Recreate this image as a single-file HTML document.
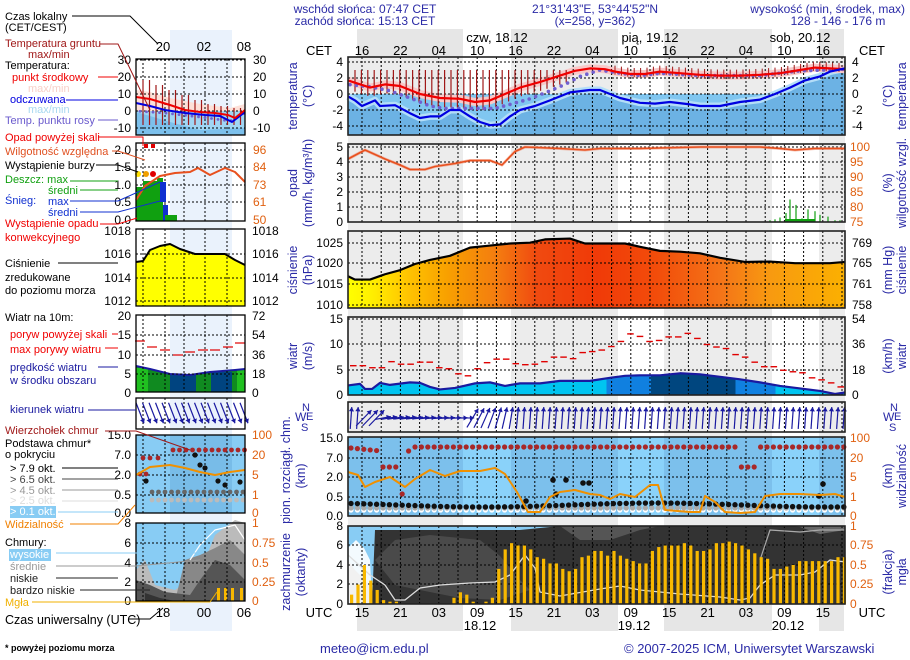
<!DOCTYPE html>
<html><head><meta charset="utf-8">
<style>
html,body{margin:0;padding:0;background:#fff;}
svg{display:block;font-family:"Liberation Sans",sans-serif;}
.b{fill:#2a2aa6;font-size:12px}
.n{font-size:12px;fill:#000}
.lg{font-size:11px}
</style></head><body>
<svg id="c" width="910" height="660" viewBox="0 0 910 660" xmlns="http://www.w3.org/2000/svg">
<g id="plots"></g>
<text class="b" x="365" y="13" text-anchor="middle">wschód słońca: 07:47 CET</text>
<text class="b" x="365" y="25" text-anchor="middle">zachód słońca: 15:13 CET</text>
<text class="b" x="595" y="13" text-anchor="middle">21°31'43"E, 53°44'52"N</text>
<text class="b" x="595" y="25" text-anchor="middle">(x=258,  y=362)</text>
<text class="b" x="905" y="13" text-anchor="end">wysokość (min, środek, max)</text>
<text class="b" x="838" y="25" text-anchor="middle">128 - 146 - 176 m</text>
<text class="n" x="497" y="42" text-anchor="middle" style="font-size:13px">czw, 18.12</text>
<text class="n" x="650" y="42" text-anchor="middle" style="font-size:13px">pią, 19.12</text>
<text class="n" x="800" y="42" text-anchor="middle" style="font-size:13px">sob, 20.12</text>
<text class="n" x="319" y="55" text-anchor="middle" style="font-size:13px">CET</text>
<text class="n" x="872" y="55" text-anchor="middle" style="font-size:13px">CET</text>
<text class="n" x="319" y="617" text-anchor="middle" style="font-size:13px">UTC</text>
<text class="n" x="872" y="617" text-anchor="middle" style="font-size:13px">UTC</text>
<text class="n" x="480" y="630" text-anchor="middle" style="font-size:13px">18.12</text>
<text class="n" x="634" y="630" text-anchor="middle" style="font-size:13px">19.12</text>
<text class="n" x="788" y="630" text-anchor="middle" style="font-size:13px">20.12</text>
<text class="b" x="320" y="653" style="font-size:13px">meteo@icm.edu.pl</text>
<text class="b" x="624" y="653" style="font-size:13px">© 2007-2025 ICM, Uniwersytet Warszawski</text>
<text x="5" y="651" style="font-size:9px;font-weight:bold" fill="#000">* powyżej poziomu morza</text>
<g class="lg">
<text x="5" y="20" fill="#000">Czas lokalny</text>
<text x="5" y="31" fill="#000">(CET/CEST)</text>
<text x="5" y="47" fill="#a01818">Temperatura gruntu</text>
<text x="28" y="58" fill="#a01818">max/min</text>
<text x="5" y="69" fill="#000">Temperatura:</text>
<text x="12" y="81" fill="#f00000">punkt środkowy</text>
<text x="28" y="92" fill="#f8d0c8">max/min</text>
<text x="10" y="103" fill="#0000e0">odczuwana</text>
<text x="28" y="113" fill="#a8d8f0">max/min</text>
<text x="5" y="124" fill="#6a5acd">Temp. punktu rosy</text>
<text x="5" y="141" fill="#f00000">Opad powyżej skali</text>
<text x="5" y="155" fill="#e05020">Wilgotność względna</text>
<text x="5" y="169" fill="#000">Wystąpienie burzy</text>
<text x="5" y="183" fill="#10a010">Deszcz: max</text>
<text x="48" y="194" fill="#10a010">średni</text>
<text x="5" y="204" fill="#1030d0">Śnieg:</text>
<text x="48" y="205" fill="#1030d0">max</text>
<text x="48" y="216" fill="#1030d0">średni</text>
<text x="5" y="227" fill="#f00000">Wystąpienie opadu</text>
<text x="5" y="241" fill="#f00000">konwekcyjnego</text>
<text x="5" y="267" fill="#000">Ciśnienie</text>
<text x="5" y="281" fill="#000">zredukowane</text>
<text x="5" y="294" fill="#000">do poziomu morza</text>
<text x="5" y="321" fill="#000">Wiatr na 10m:</text>
<text x="10" y="338" fill="#f00000">poryw powyżej skali</text>
<text x="10" y="353" fill="#f00000">max porywy wiatru</text>
<text x="10" y="371" fill="#1a1aa0">prędkość wiatru</text>
<text x="10" y="384" fill="#1a1aa0">w środku obszaru</text>
<text x="10" y="413" fill="#1a1aa0">kierunek wiatru</text>
<text x="5" y="434" fill="#a01818">Wierzchołek chmur</text>
<text x="5" y="447" fill="#000">Podstawa chmur*</text>
<text x="5" y="458" fill="#000">o pokryciu</text>
<text x="10" y="472" fill="#000">&gt; 7.9 okt.</text>
<text x="10" y="483" fill="#444">&gt; 6.5 okt.</text>
<text x="10" y="494" fill="#999">&gt; 4.5 okt.</text>
<text x="10" y="504" fill="#ddd">&gt; 2.5 okt.</text>
<rect x="10" y="506" width="46" height="12" fill="#88ccf4"/>
<text x="10" y="515" fill="#fff">&gt; 0.1 okt.</text>
<text x="5" y="528" fill="#f08000">Widzialność</text>
<text x="5" y="546" fill="#000">Chmury:</text>
<rect x="9" y="549" width="42" height="12" fill="#88ccf4"/>
<text x="10" y="558" fill="#fff">wysokie</text>
<text x="10" y="570" fill="#999">średnie</text>
<text x="10" y="582" fill="#222">niskie</text>
<text x="10" y="594" fill="#222">bardzo niskie</text>
<text x="5" y="606" fill="#f0b000">Mgła</text>
<text x="5" y="624" fill="#000" style="font-size:12.5px">Czas uniwersalny (UTC)</text>
</g>
</svg>
<script>
(function(){
let s='';
const R=(x,y,w,h,f,e='')=>{s+=`<rect x="${x}" y="${y}" width="${w}" height="${h}" fill="${f}" ${e}/>`;};
const L=(x1,y1,x2,y2,c,w=1,e='')=>{s+=`<line x1="${x1}" y1="${y1}" x2="${x2}" y2="${y2}" stroke="${c}" stroke-width="${w}" ${e}/>`;};
const T=(x,y,t,c='#000',a='start',fs=12)=>{s+=`<text x="${x}" y="${y}" fill="${c}" text-anchor="${a}" style="font-size:${fs}px">${t}</text>`;};
const RT=(x,y,t,c='#2a2aa6')=>{s+=`<text transform="translate(${x},${y}) rotate(-90)" fill="${c}" text-anchor="middle" style="font-size:12.5px">${t}</text>`;};
const P=(pts,c,w,e='')=>{s+=`<polyline points="${pts.map(p=>p.join(',')).join(' ')}" fill="none" stroke="${c}" stroke-width="${w}" stroke-linejoin="round" ${e}/>`;};
const G=(pts,f,e='')=>{s+=`<polygon points="${pts.map(p=>p.join(',')).join(' ')}" fill="${f}" ${e}/>`;};
const C=(x,y,r,f)=>{s+=`<circle cx="${x}" cy="${y}" r="${r}" fill="${f}"/>`;};
const ip=(pts,x)=>{for(let i=0;i<pts.length-1;i++){if(x>=pts[i][0]&&x<=pts[i+1][0]){const t=(x-pts[i][0])/(pts[i+1][0]-pts[i][0]);return pts[i][1]+t*(pts[i+1][1]-pts[i][1]);}}return x<pts[0][0]?pts[0][1]:pts[pts.length-1][1];};
const X0=348,X1=845,W=X1-X0;
const days=[[463,511],[618,664],[772,819]];
const DASH='stroke-dasharray="2,2"';
R(170,30,62,601,'#eaf2fc');
[[357,463],[511,618],[664,772],[819,844]].forEach(b=>{R(b[0],29,b[1]-b[0],28,'#e6e6e6');});
R(348,57,497,547,'#ececec');
days.forEach(d=>R(d[0],57,d[1]-d[0],547,'#fff'));
const hrs=['16','22','04','10','16','22','04','10','16','22','04','10','16'];
const utc=['15','21','03','09','15','21','03','09','15','21','03','09','15'];
hrs.forEach((h,i)=>{T(362+i*38.4,55,h,'#000','middle',13);});
const vgrid=(y0,y1)=>{for(let x=362;x<X1;x+=19.2)L(x,y0,x,y1,'#000',1,DASH);};
const hgrid=(ys)=>ys.forEach(y=>L(X0,y,X1,y,'#000',1,DASH));
const box=(y0,y1)=>R(X0,y0,W,y1-y0,'none','stroke="#222" stroke-width="1.6"');
// TEMP
const ty=v=>94-8*v;
const red=[[348,1.7],[370,0.8],[385,1.2],[400,1.0],[420,0],[440,-0.5],[460,-0.6],[475,-1.0],[490,-0.8],[505,0],[520,0.8],[540,1.5],[560,2.3],[575,2.9],[590,3.2],[605,3.1],[615,2.8],[630,2.5],[645,2.5],[660,2.8],[680,2.6],[700,2.4],[720,2.3],[740,2.3],[760,2.4],[780,2.6],[800,3.0],[815,3.3],[830,3.2],[845,3.1]].map(p=>[p[0],ty(p[1])]);
const blue=[[348,-0.3],[355,-0.8],[362,-1.5],[375,-0.8],[380,-1.5],[395,-1.4],[410,-2.4],[420,-3.0],[430,-2.8],[440,-2.8],[450,-2.0],[460,-2.0],[470,-2.8],[480,-3.5],[490,-3.9],[500,-3.8],[510,-2.8],[520,-2.0],[535,-1.5],[550,-0.8],[570,0.2],[590,0.5],[600,0.5],[610,0],[620,-0.5],[640,-1.1],[655,-1.2],[670,-1.0],[690,-1.3],[700,-1.5],[720,-1.5],[740,-1.0],[760,-0.7],[775,0],[790,0.8],[805,1.7],[820,2.2],[830,2.8],[845,3.2]].map(p=>[p[0],ty(p[1])]);
R(X0,94,W,41,'#80c6f0');
G([[348,135],...blue,[845,135]],'#6cb2e4');
P(blue,'#b4def8',7);
P(red,'#f8c8c8',8);
hgrid([62,78,94,110,126]);vgrid(57,135);
for(let x=355;x<570;x+=6.4){L(x,70,x,ip(red,x)+9,'#a01818',1.2);}
for(let x=615;x<845;x+=6.4){const y=ip(red,x);L(x,y-6,x,y+3,'#a01818',1);}
const dew=[[348,1.2],[370,0.9],[390,0.4],[410,-0.5],[430,-1.5],[445,-1.8],[495,-1.8],[510,-1.3],[530,-0.6],[550,0.4],[565,1.2],[580,2.2],[600,3.0],[620,2.6],[640,2.3],[660,2.6],[700,2.3],[760,2.3],[800,2.9],[845,3.1]].map(p=>[p[0],ty(p[1])]);
for(let x=350;x<845;x+=6.4)C(x,ip(dew,x),1.8,'#7060d0');
P(red,'#f00000',2.2);P(blue,'#0000e0',2.2);
box(57,135);
[[4,62],[2,78],[0,94],[-2,110],[-4,126]].forEach(t=>{T(343,t[1]+4,t[0],'#000','end');T(852,t[1]+4,t[0]);});
// PRECIP
hgrid([147,162,177,192,207]);vgrid(144,222);
const rh=[[348,96],[365,99],[385,96],[400,94],[410,92.5],[425,92.5],[435,93.5],[455,94.5],[470,95.5],[490,95.5],[502,94],[515,98.5],[525,100],[560,99.5],[585,99],[600,99.5],[640,99.5],[700,100],[760,100],[780,99.5],[795,99],[815,99.5],[845,99.5]].map(p=>[p[0],222-(p[1]-75)*3]);
P(rh,'#f08060',3,'opacity="0.5"');P(rh,'#e8501e',1.6);
[[770,2],[775,3],[780,5],[786,10],[790,25],[796,19],[802,4],[808,14],[815,12],[820,8],[828,6],[835,2],[840,2]].forEach(b=>L(b[0],222,b[0],222-b[1]*0.9,'#10a010',1.2));
R(785,219,30,3,'#10a010');
box(144,222);
[[5,147],[4,162],[3,177],[2,192],[1,207],[0,222]].forEach(t=>T(343,t[1]+4,t[0],'#000','end'));
[[100,147],[95,162],[90,177],[85,192],[80,207],[75,222]].forEach(t=>T(850,t[1]+4,t[0],'#e06010'));
// PRESSURE
const py=p=>305-(p-1010)*4.1;
const pr=[[348,1017],[355,1016.2],[370,1016.2],[385,1017.5],[400,1018.5],[415,1020],[430,1021],[450,1022],[470,1024],[490,1024.5],[510,1025],[530,1025.2],[545,1026],[570,1026.2],[585,1025],[600,1025],[625,1025],[640,1024.2],[660,1023.2],[680,1023],[700,1022.6],[720,1021.5],[745,1020.5],[770,1020.6],[795,1020.2],[815,1020.2],[830,1020.2],[845,1020.5]].map(p=>[p[0],py(p[1])]);
s+=`<defs><linearGradient id="pg" x1="348" x2="845" y1="0" y2="0" gradientUnits="userSpaceOnUse">
<stop offset="0" stop-color="#ffff00"/><stop offset="0.05" stop-color="#ffee00"/><stop offset="0.12" stop-color="#ffc400"/><stop offset="0.2" stop-color="#f8a000"/><stop offset="0.3" stop-color="#f47c10"/><stop offset="0.38" stop-color="#f04a10"/><stop offset="0.5" stop-color="#f03a08"/><stop offset="0.62" stop-color="#f24c0a"/><stop offset="0.75" stop-color="#f47418"/><stop offset="0.85" stop-color="#f89a10"/><stop offset="1" stop-color="#fbb000"/></linearGradient></defs>`;
G([[348,308],...pr,[845,308]],'url(#pg)');
hgrid([243,263,284,305]);vgrid(231,308);
P(pr,'#000',2.2);
box(231,308);
[[1025,243],[1020,263],[1015,284],[1010,305]].forEach(t=>T(343,t[1]+4,t[0],'#000','end'));
[[769,243],[765,263],[761,284],[758,305]].forEach(t=>T(852,t[1]+4,t[0]));
// WIND
const wy=v=>395-5.05*v;
const ws=[[348,1.9],[360,2.2],[365,1.2],[372,1.2],[380,2.4],[390,2.0],[410,2.5],[420,2.4],[430,1.6],[440,1.1],[455,1.4],[475,2.3],[490,2.5],[505,1.8],[520,2.3],[540,2.3],[560,2.8],[590,2.8],[610,3.4],[625,3.8],[640,3.9],[660,3.9],[680,4.3],[700,4.1],[720,3.6],[740,3.1],[760,2.5],[780,1.8],[800,1.3],[820,0.8],[835,0.2],[845,0.5]].map(p=>[p[0],wy(p[1])]);
s+=`<defs><linearGradient id="wg" x1="348" x2="845" y1="0" y2="0" gradientUnits="userSpaceOnUse">
<stop offset="0" stop-color="#00c4f0"/><stop offset="0.52" stop-color="#00c4f0"/><stop offset="0.52" stop-color="#1080e0"/><stop offset="0.61" stop-color="#1080e0"/><stop offset="0.61" stop-color="#00467f"/><stop offset="0.78" stop-color="#00467f"/><stop offset="0.78" stop-color="#1080e0"/><stop offset="0.86" stop-color="#1080e0"/><stop offset="0.86" stop-color="#00c4f0"/><stop offset="1" stop-color="#00c4f0"/></linearGradient></defs>`;
G([[348,395],...ws,[845,395]],'url(#wg)');
hgrid([319,344,370]);vgrid(317,395);
P(ws,'#1a1aa0',2.2);
const gv=[5.8,5.8,5.4,5.4,6.6,6.1,6.1,6.5,6.5,5.4,5.2,4.2,3.8,5.2,6.4,7.1,7.1,6.2,6.0,6.1,6.6,7.5,7.5,7.2,8.4,8.6,8.9,9.6,10.6,12.1,11.6,10.6,10.8,11.5,11.5,12.2,11.2,10,9.5,9.2,8.0,7.5,6.5,5.6,5.6,4.9,4.6,4.4,3.4,3.0,2.4,1.6];
const gw=W/gv.length;
gv.forEach((v,i)=>L(X0+i*gw+2,wy(v),X0+(i+1)*gw-1,wy(v),'#e00000',1.4));
box(317,395);
[[15,319],[10,344],[5,370],[0,395]].forEach(t=>T(343,t[1]+4,t[0],'#000','end'));
[[54,319],[36,344],[18,370],[0,395]].forEach(t=>T(852,t[1]+4,t[0]));
// WIND DIR
vgrid(402,432);
const arrow=(x,y,ang,len,c)=>{const dx=Math.cos(ang)*len/2,dy=Math.sin(ang)*len/2;L(x-dx,y-dy,x+dx,y+dy,c,1.2);const hx=x+dx,hy=y+dy,a1=ang+2.6,a2=ang-2.6;G([[hx,hy],[hx+Math.cos(a1)*5,hy+Math.sin(a1)*5],[hx+Math.cos(a2)*5,hy+Math.sin(a2)*5]],c);};
for(let x=351;x<845;x+=6.4){let ang;if(x<362)ang=-1.5;else if(x<380)ang=-0.8;else if(x<470)ang=-0.1+(x-420)*0.002;else if(x<520)ang=-1.0-(x-470)*0.01;else ang=-1.5;const len=(x>380&&x<470)?16:22;arrow(x,418,ang,len,'#1a1aa0');}
box(402,432);
// CLOUDS
R(X0,437,W,79,'#7cc0ec');
days.forEach(d=>R(d[0],437,d[1]-d[0],79,'#8ad2fa'));
hgrid([458,477,497]);vgrid(437,516);
const vis=[[348,472],[358,475],[365,487],[375,482],[390,477],[405,487],[415,479],[430,470],[445,476],[460,471],[480,471],[495,468],[505,474],[517,492],[528,512],[540,512],[550,497],[560,492],[575,490],[590,494],[600,495],[610,499],[620,494],[635,497],[650,485],[658,485],[665,510],[690,512],[700,512],[705,496],[715,502],[725,512],[740,513],[755,512],[765,496],[780,494],[800,494],[820,495],[835,494],[845,497]];
for(let x=351;x<845;x+=6.4){
 let ry=447;if(x<378)ry=448+(x-351)*0.1;else if(x<398)ry=467;else if(x<404&&x>396)ry=494;else if(x<410)ry=451;
 if(x>735&&x<758)ry=467;
 C(x,ry,2.6,'#a82828');
 C(x,510,2.6,'#ffffff');C(x,508,2.6,'#aaaaaa');
 C(x,505+(Math.sin(x)*2),2.7,'#111');
}
[[553,480],[566,480],[583,483],[589,483],[526,501],[556,494],[819,496],[823,484]].forEach(p=>C(p[0],p[1],2.8,'#111'));
P(vis,'#f09000',2);
box(437,516);
[['15.0',438],['7.0',458],['2.0',477],['0.5',497],['0.0',516]].forEach(t=>T(343,t[1]+4,t[0],'#000','end'));
[[100,438],[20,458],[5,477],[1,497],[0,516]].forEach(t=>T(850,t[1]+4,t[0],'#e06010'));
// COVER
R(X0,526,W,78,'#88ccf4');
G([[348,560],[355,570],[365,580],[372,590],[380,604],[348,604]],'#707070');
G([[348,548],[356,540],[364,548],[370,560],[372,604],[348,604]],'#ffffff','opacity="0.9"');
G([[372,604],[375,530],[520,530],[560,526],[600,528],[650,526],[845,526],[845,604]],'#333');
G([[375,560],[395,540],[430,535],[480,540],[500,556],[520,580],[530,590],[500,600],[460,598],[420,590],[395,585]],'#4a4a4a');
G([[560,526],[580,540],[610,540],[640,530],[660,526]],'#555');
G([[800,527],[820,534],[845,530],[845,526],[790,526]],'#666');
hgrid([545,565,584]);vgrid(526,604);
const wl=[[348,555],[370,575],[385,585],[395,600],[405,600],[420,588],[440,585],[470,583],[495,582],[510,575],[525,555],[535,568],[540,592],[560,596],[600,589],[620,586],[640,590],[680,594],[720,597],[740,600],[750,598],[760,585],[775,575],[800,575],[815,572],[830,560],[845,562]];
P(wl,'#ddd',1.3);
P([[760,560],[770,530],[800,532],[820,530],[845,530]],'#aaa',1.2);
const fog=[.12,.25,.5,.3,.18,.05,.03,.03,0,0,0,0,0,0,0,0,.08,.15,.12,.03,0,.03,.08,.45,.7,.78,.75,.75,.7,.6,.58,.52,.52,.45,.42,.45,.6,.62,.68,.68,.62,.68,.62,.58,.55,.52,.52,.68,.73,.75,.75,.75,.78,.75,.68,.68,.7,.78,.78,.8,.78,.75,.7,.65,.6,.58,.45,.45,.48,.5,.55,.55,.55,.55,.55,.55,.6,.6];
fog.forEach((v,i)=>{const x=350+i*6.4;if(v>0&&x<844)R(x,604-v*78,3.2,v*78,'#f8b800');});
box(526,604);
[[8,526],[6,545],[4,565],[2,584],[0,604]].forEach(t=>T(343,t[1]+4,t[0],'#000','end'));
[['1',526],['0.75',545],['0.5',565],['0.25',584],['0',604]].forEach(t=>T(850,t[1]+4,t[0],'#e06010'));
[[357,463],[511,618],[664,772],[819,844]].forEach(b=>R(b[0],605,b[1]-b[0],26,'#e6e6e6'));
hrs.forEach((h,i)=>T(362+i*38.4,617,utc[i],'#000','middle',13));
// rotated labels
RT(297,96,'temperatura');RT(312,96,'(°C)');
RT(297,183,'opad');RT(312,183,'(mm/h, kg/m³/h)');
RT(297,270,'ciśnienie');RT(312,270,'(hPa)');
RT(297,356,'wiatr');RT(312,356,'(m/s)');
RT(290,470,'pion. rozciągł. chm.');RT(305,476,'(km)');
RT(290,572,'zachmurzenie');RT(305,572,'(oktanty)');
RT(892,96,'(°C)');RT(906,96,'temperatura');
RT(892,183,'(%)');RT(906,183,'wilgotność wzgl.');
RT(892,270,'(mm Hg)');RT(906,270,'ciśnienie');
RT(892,356,'(km/h)');RT(906,356,'wiatr');
RT(892,476,'(km)');RT(906,476,'widzialność');
RT(892,572,'(frakcja)');RT(906,572,'mgła');
[296,884].forEach(x=>{T(x+6,411,'N','#2a2aa6','start',11);T(x-1,421,'W','#2a2aa6','start',12);T(x+10,420,'E','#2a2aa6','start',11);T(x+5,431,'S','#2a2aa6','start',11);});
// LEFT PANELS
const lx0=136,lx1=245,lw=109;
const lv=(y0,y1)=>[143,165,184,205,227].forEach(x=>L(x,y0,x,y1,'#000',1,DASH));
const lh=ys=>ys.forEach(y=>L(lx0,y,lx1,y,'#000',1,DASH));
const lbox=(y0,y1)=>R(lx0,y0,lw,y1-y0,'none','stroke="#000" stroke-width="1.3"');
T(163,51,'20','#000','middle',13);T(204,51,'02','#000','middle',13);T(244,51,'08','#000','middle',13);
G([[136,90],[150,92],[170,98],[200,104],[230,108],[245,104],[245,112],[136,112]],'#fde0d8');
R(136,111,109,24,'#a0d6f4');
G([[136,112],[150,116],[170,122],[200,130],[245,128],[245,135],[136,135]],'#7cc0ec');
lh([60,77,94,111,128]);lv(59,135);
for(let x=143;x<245;x+=6.5)L(x,[80,85,90,95,100,104,106,108][Math.floor((x-143)/13)]||106,x,125,'#a01818',1.2);
for(let x=140;x<245;x+=6.5)C(x,ip([[136,111],[165,113],[200,117],[230,121],[245,113]],x),1.4,'#7060d0');
P([[136,103],[150,106],[165,110],[185,113],[205,115],[220,116],[232,122],[245,112]],'#0000e0',2);
P([[136,97],[150,99],[170,105],[185,110],[200,112],[215,113],[228,115],[235,118],[245,110]],'#f00000',2);
lbox(59,135);
[[30,60],[20,77],[10,94],[0,111],[-10,128]].forEach(t=>{T(131,t[1]+4,t[0],'#000','end',12);T(253,t[1]+4,t[0],'#000','start',12);});
lh([150,167,185,202]);lv(143,221);
R(136,187,24,34,'#10a010');R(143,181,14,40,'#10a010');R(157,178,6,43,'#10a010');R(160,182,6,20,'#1030d0');R(163,205,5,16,'#1030d0');R(165,215,12,6,'#10a010');
[[138,'#ffe000'],[146,'#f0a000'],[153,'#e00000']].forEach(p=>C(p[0],174,3,p[1]));
[[146,146],[153,146]].forEach(p=>R(p[0]-2,p[1]-2,4,4,'#e00000'));
P([[136,200],[145,186],[160,176],[175,173],[190,172],[198,168],[210,175],[225,168],[235,172],[245,182]],'#e8501e',2);
lbox(143,221);
[['2.0',150],['1.5',167],['1.0',185],['0.5',202],['0.0',220]].forEach(t=>T(131,t[1]+4,t[0],'#000','end',12));
[[96,150],[84,167],[73,185],[61,202],[50,220]].forEach(t=>T(253,t[1]+4,t[0],'#e06010','start',12));
const lp=[[136,262],[143,261],[150,250],[160,246],[170,244],[180,249],[195,254],[225,254],[235,260],[245,265]];
G([[136,306],...lp,[245,306]],'#ffff00');
lh([254,278,301]);lv(229,306);P(lp,'#000',2);lbox(229,306);
[[1018,231],[1016,254],[1014,278],[1012,301]].forEach(t=>{T(131,t[1]+4,t[0],'#000','end',12);T(252,t[1]+4,t[0],'#000','start',12);});
const lwl=[[136,366],[150,369],[170,374],[190,375],[210,372],[235,370],[245,369]];
G([[136,392],...lwl,[245,392]],'#108a20');
R(170,374,26,18,'#004480');R(211,372,21,20,'#004480');R(136,368,12,24,'#20c020');R(237,369,8,23,'#20c020');
P(lwl,'#1a1aa0',2);
lh([335,355,374]);lv(315,392);
[[140,341],[152,347],[165,350],[178,355],[190,352],[203,350],[215,350],[228,347],[240,343]].forEach(p=>L(p[0]-5,p[1],p[0]+5,p[1],'#e00000',1.2));
lbox(315,392);
[[20,316],[15,335],[10,355],[5,374],[0,393]].forEach(t=>T(131,t[1]+4,t[0],'#000','end',12));
[[72,316],[54,335],[36,355],[18,374],[0,393]].forEach(t=>T(252,t[1]+4,t[0],'#000','start',12));
lv(398,429);
for(let x=140;x<250;x+=6.5)arrow(x,413,1.2,22,'#1a1aa0');
lbox(398,429);
R(136,435,109,78,'#88ccf4');R(170,435,62,78,'#78bce8');
lh([455,475,495]);lv(435,513);
for(let x=173;x<245;x+=6.5)C(x,450,2.4,'#a82828');
[[143,458],[150,458],[158,458],[140,474],[146,474]].forEach(p=>C(p[0],p[1],2.4,'#a82828'));
[[195,455],[200,465],[205,468],[218,481],[225,485],[240,482],[146,481]].forEach(p=>C(p[0],p[1],2.6,'#111'));
for(let x=152;x<245;x+=6.5){C(x,492,2.4,'#666');C(x,500,2.4,'#bbb');}
P([[136,475],[150,467],[170,465],[185,468],[200,472],[215,475],[230,472],[245,470]],'#f09000',2);
lbox(435,513);
[['15.0',435],['7.0',455],['2.0',475],['0.5',495],['0.0',513]].forEach(t=>T(131,t[1]+4,t[0],'#000','end',12));
[[100,435],[20,455],[5,475],[1,495],[0,513]].forEach(t=>T(252,t[1]+4,t[0],'#e06010','start',12));
R(136,523,109,78,'#88ccf4');
G([[136,570],[145,560],[155,585],[175,590],[182,585],[185,572],[205,560],[215,535],[235,520],[245,523],[245,601],[136,601]],'#bbb');
G([[175,601],[185,560],[200,555],[215,548],[230,540],[245,555],[245,601]],'#888');
G([[136,580],[150,585],[165,592],[190,595],[200,580],[215,560],[230,565],[245,580],[245,601],[136,601]],'#555');
G([[145,593],[160,598],[175,601],[145,601]],'#333');
P([[190,560],[200,545],[215,530],[235,525],[245,540]],'#fff',1.2);
[[217,588],[224,588],[231,588],[240,588]].forEach(p=>R(p[0],p[1],3,13,'#f8b800'));
lh([543,563,582]);lv(523,601);
lbox(523,601);
[[8,523],[6,543],[4,563],[2,582],[0,601]].forEach(t=>T(131,t[1]+4,t[0],'#000','end',12));
[['1',523],['0.75',543],['0.5',563],['0.25',582],['0',601]].forEach(t=>T(252,t[1]+4,t[0],'#e06010','start',12));
T(163,617,'18','#000','middle',13);T(204,617,'00','#000','middle',13);T(244,617,'06','#000','middle',13);
const ll=[[[72,16],[130,16],[158,44]],[[100,44],[118,44],[150,110]],[[98,77],[118,77]],[[66,100],[118,100]],[[98,120],[118,120]],[[98,137],[143,137],[143,146]],[[112,151],[118,151],[145,160]],[[96,165],[118,165],[138,172]],[[70,181],[118,181]],[[80,190],[118,190]],[[70,201],[118,201],[160,182]],[[80,212],[118,212],[160,201]],[[100,224],[118,224],[137,218]],[[58,263],[118,263]],[[112,334],[118,334]],[[105,348],[118,348]],[[98,367],[118,367]],[[88,410],[136,410]],[[105,431],[136,431],[190,450]],[[62,468],[118,468]],[[62,479],[118,479]],[[62,490],[118,490]],[[62,501],[118,501]],[[58,512],[118,512]],[[70,524],[118,524],[135,505]],[[56,553],[136,553],[200,553]],[[56,566],[136,566],[200,560]],[[56,578],[118,578]],[[80,590],[136,590],[150,590]],[[32,602],[210,602],[217,592]],[[128,619],[150,619],[163,608]]];
const lc=['#000','#a01818','#f00000','#0000e0','#6a5acd','#f00000','#e05020','#000','#10a010','#10a010','#1030d0','#1030d0','#f00000','#000','#f00000','#f00000','#1a1aa0','#1a1aa0','#a01818','#000','#444','#999','#ddd','#88ccf4','#f08000','#88ccf4','#999','#222','#222','#f0b000','#000'];
ll.forEach((p,i)=>P(p,lc[i],1));
document.getElementById('plots').innerHTML=s;
})();
</script>
</body></html>
